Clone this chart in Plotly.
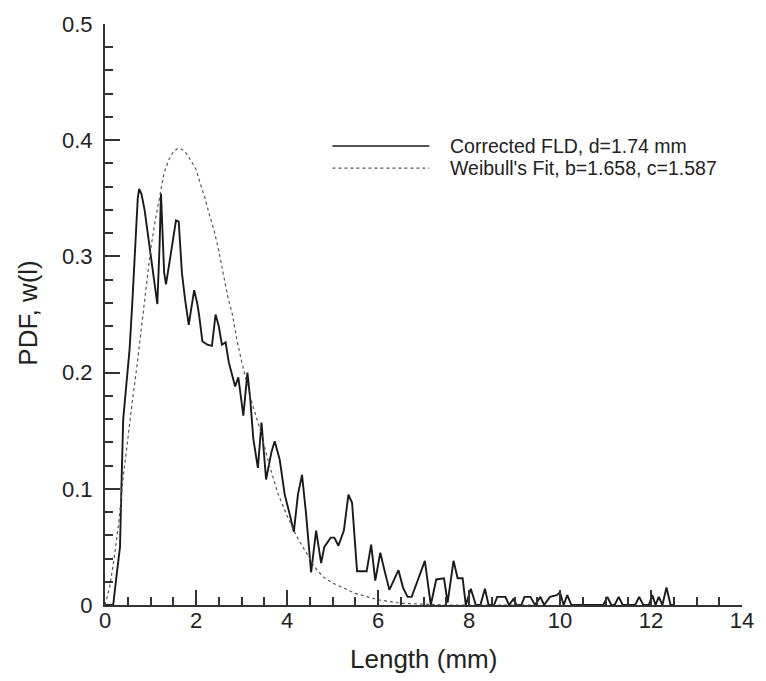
import plotly.graph_objects as go

# Corrected FLD (solid, traced vertices)
fld_x = [0.0, 0.18, 0.25, 0.33, 0.36, 0.40, 0.47, 0.54, 0.60, 0.67, 0.72, 0.75, 0.80, 0.87, 0.94,
         1.01, 1.09, 1.15, 1.20, 1.23, 1.30, 1.34, 1.45, 1.56, 1.62, 1.69, 1.76, 1.84, 1.96, 2.03,
         2.07, 2.14, 2.25, 2.35, 2.43, 2.50, 2.57, 2.65, 2.72, 2.79, 2.86, 2.93, 3.04, 3.13, 3.19,
         3.26, 3.36, 3.44, 3.50, 3.54, 3.66, 3.73, 3.84, 3.95, 4.06, 4.15, 4.24, 4.33, 4.42, 4.53,
         4.64, 4.75, 4.82, 4.96, 5.04, 5.13, 5.25, 5.35, 5.43, 5.54, 5.75, 5.85, 5.94, 6.05, 6.16,
         6.25, 6.45, 6.55, 6.65, 6.74, 7.03, 7.16, 7.28, 7.45, 7.53, 7.66, 7.75, 7.86, 7.93, 8.04,
         8.15, 8.25, 8.35, 8.43, 8.55, 8.62, 8.80, 8.88, 8.97, 9.05, 9.15, 9.22, 9.35, 9.45, 9.57,
         9.65, 9.78, 9.93, 10.0, 10.08, 10.16, 10.25, 10.95, 11.04, 11.13, 11.20, 11.29, 11.38,
         11.65, 11.74, 11.83, 11.95, 12.03, 12.10, 12.17, 12.25, 12.34, 12.43, 12.50]
fld_y = [0.0, 0.0, 0.024, 0.05, 0.10, 0.16, 0.19, 0.22, 0.26, 0.31, 0.35, 0.358, 0.354, 0.34, 0.32,
         0.30, 0.274, 0.259, 0.31, 0.354, 0.286, 0.276, 0.303, 0.331, 0.33, 0.286, 0.263, 0.241, 0.271, 0.259,
         0.249, 0.227, 0.224, 0.223, 0.25, 0.24, 0.224, 0.226, 0.209, 0.198, 0.188, 0.196, 0.163, 0.20, 0.178,
         0.143, 0.118, 0.157, 0.127, 0.108, 0.132, 0.141, 0.125, 0.095, 0.078, 0.063, 0.095, 0.112, 0.078, 0.028,
         0.064, 0.036, 0.050, 0.058, 0.058, 0.051, 0.064, 0.095, 0.088, 0.029, 0.029, 0.052, 0.021, 0.045, 0.027,
         0.013, 0.030, 0.015, 0.007, 0.007, 0.038, 0.0, 0.022, 0.023, 0.002, 0.038, 0.023, 0.023, 0.0, 0.014,
         0.0, 0.0, 0.014, 0.0, 0.0, 0.007, 0.007, 0.0, 0.005, 0.0, 0.0, 0.007, 0.007, 0.0, 0.007,
         0.0, 0.007, 0.0085, 0.011, 0.0, 0.0085, 0.0, 0.0, 0.007, 0.0, 0.0, 0.007, 0.0,
         0.0, 0.007, 0.0, 0.0, 0.0085, 0.0, 0.007, 0.0, 0.015, 0.0, 0.0]

# Weibull's fit (dotted)
wb_x = [0.0, 0.1, 0.2, 0.3, 0.4, 0.5, 0.6, 0.7, 0.8, 0.9, 1.0, 1.1, 1.2, 1.3, 1.4, 1.5, 1.6, 1.7,
        1.8, 1.9, 2.0, 2.1, 2.2, 2.3, 2.4, 2.5, 2.6, 2.7, 2.8, 2.9, 3.0, 3.2, 3.4, 3.6, 3.8, 4.0,
        4.2, 4.4, 4.6, 4.8, 5.0, 5.5, 6.0, 6.5, 7.0, 7.5, 8.5, 9.5]
wb_y = [0.0, 0.015, 0.04, 0.07, 0.11, 0.145, 0.175, 0.205, 0.24, 0.275, 0.305, 0.33, 0.352, 0.372,
        0.383, 0.39, 0.393, 0.392, 0.388, 0.382, 0.375, 0.362, 0.35, 0.335, 0.322, 0.305, 0.285,
        0.265, 0.25, 0.228, 0.21, 0.178, 0.152, 0.122, 0.096, 0.077, 0.06, 0.047, 0.033, 0.024,
        0.019, 0.010, 0.0045, 0.0015, 0.0005, 0.0, 0.0, 0.0]

legend_labels = ["Corrected FLD, d=1.74 mm", "Weibull's Fit, b=1.658, c=1.587"]

FONT = "Liberation Sans, Arial, sans-serif"
INK = "#222222"

fig = go.Figure()
fig.add_trace(go.Scatter(x=fld_x, y=fld_y, mode="lines", name=legend_labels[0],
                         line=dict(color="#1a1a1a", width=1.9), showlegend=False))
fig.add_trace(go.Scatter(x=wb_x, y=wb_y, mode="lines", name=legend_labels[1],
                         line=dict(color="#555555", width=1.2, dash="dot"), showlegend=False))

axis_common = dict(showgrid=False, zeroline=False, showline=True, linecolor="#333333", linewidth=2,
                   ticks="inside", tickwidth=2, tickcolor="#333333", ticklen=15,
                   tickfont=dict(family=FONT, size=22, color=INK))

fig.update_xaxes(range=[0, 14], dtick=2, tick0=0, ticklabelstandoff=-5,
                 minor=dict(ticks="inside", dtick=0.5, ticklen=8, tickwidth=2, tickcolor="#333333"),
                 **axis_common)
fig.update_yaxes(range=[0, 0.5], dtick=0.1, tick0=0, ticklabelstandoff=6,
                 minor=dict(ticks="inside", dtick=0.02, ticklen=8, tickwidth=2, tickcolor="#333333"),
                 **axis_common)

# legend drawn as shapes + text
leg_x0, leg_x1, leg_tx = 0.357, 0.509, 0.539
leg_rows = [0.790, 0.752]
fig.add_shape(type="line", xref="paper", yref="paper", x0=leg_x0, x1=leg_x1, y0=leg_rows[0], y1=leg_rows[0],
              line=dict(color="#1a1a1a", width=1.5))
fig.add_shape(type="line", xref="paper", yref="paper", x0=leg_x0, x1=leg_x1, y0=leg_rows[1], y1=leg_rows[1],
              line=dict(color="#555555", width=1.2, dash="dot"))
for lab, yy in zip(legend_labels, leg_rows):
    fig.add_annotation(text=lab, xref="paper", yref="paper", x=leg_tx, y=yy, xanchor="left", yanchor="middle",
                       showarrow=False, font=dict(family=FONT, size=19.5, color=INK))

fig.add_annotation(text="Length (mm)", xref="paper", yref="paper", x=0.5, y=-0.093,
                   xanchor="center", yanchor="middle", showarrow=False,
                   font=dict(family=FONT, size=26, color=INK))
fig.add_annotation(text="PDF, w(l)", xref="paper", yref="paper", x=-0.121, y=0.503, textangle=-90,
                   xanchor="center", yanchor="middle", showarrow=False,
                   font=dict(family=FONT, size=26, color=INK))

fig.update_layout(width=766, height=681, margin=dict(l=105, r=17, t=18.5, b=75.5),
                  paper_bgcolor="white", plot_bgcolor="white", showlegend=False)

fig.write_html("out.html")
